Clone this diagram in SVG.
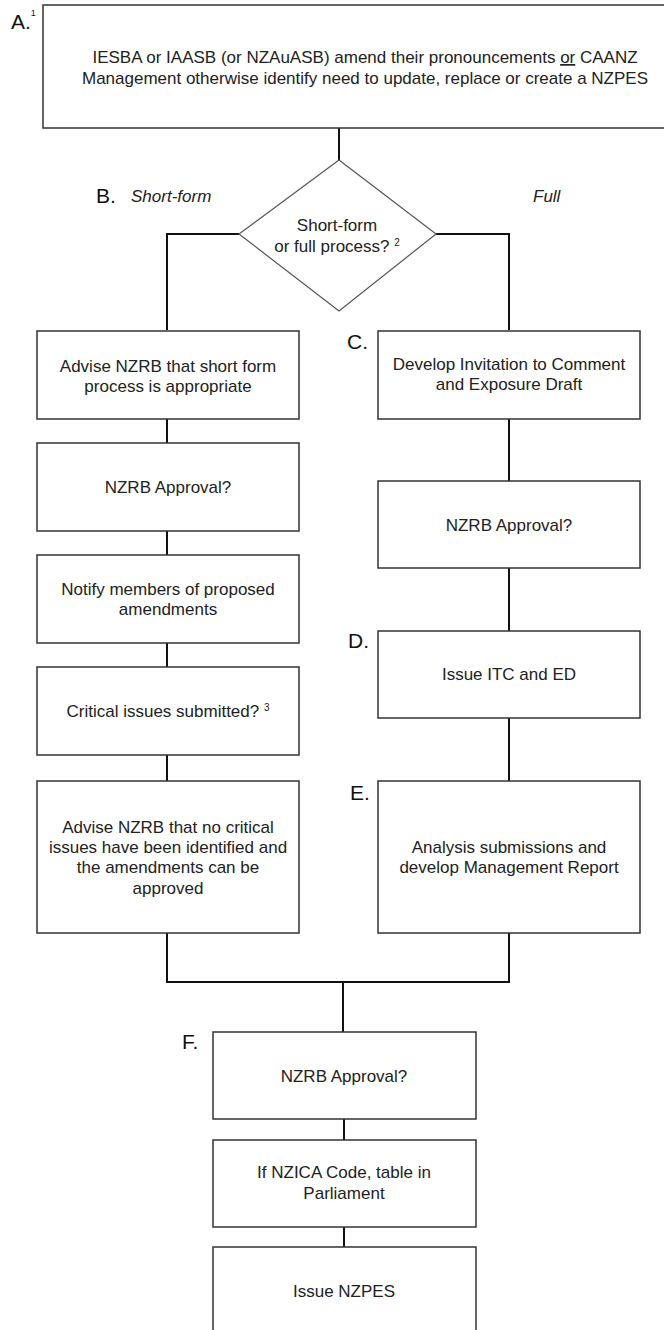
<svg xmlns="http://www.w3.org/2000/svg" width="664" height="1330" viewBox="0 0 664 1330">
<style>
.box{fill:#fff;stroke:#333;stroke-width:1.5}
.dia{fill:#fff;stroke:#555;stroke-width:1.2}
.t{font-family:"Liberation Sans",Arial,sans-serif;font-size:17px;fill:#222;text-anchor:middle}
.lbl{font-family:"Liberation Sans",Arial,sans-serif;font-size:21px;fill:#111}
.it{font-family:"Liberation Sans",Arial,sans-serif;font-size:17px;font-style:italic;fill:#222}
.sup{font-size:10px}
.con{fill:none;stroke:#111;stroke-width:2}
</style>
<rect width="664" height="1330" fill="#fff"/>
<g id="connectors">
<path class="con" d="M339,128 V160"/>
<path class="con" d="M239,234 H167 V330"/>
<path class="con" d="M436,234 H509 V330"/>
<path class="con" d="M167,418 V443"/>
<path class="con" d="M167,531 V555"/>
<path class="con" d="M167,643 V667"/>
<path class="con" d="M167,755 V781"/>
<path class="con" d="M509,418 V481"/>
<path class="con" d="M509,568 V631"/>
<path class="con" d="M509,718 V781"/>
<path class="con" d="M167,933 V982 H509 V933"/>
<path class="con" d="M343,982 V1032"/>
<path class="con" d="M344,1119 V1140"/>
<path class="con" d="M344,1227 V1247"/>
</g>
<g id="nodeA">
<rect class="box" x="43" y="5" width="630" height="123"/>
<text class="lbl" x="11" y="29">A.<tspan font-size="9" dy="-13">1</tspan></text>
<text class="t" x="365" y="63">IESBA or IAASB  (or NZAuASB)  amend their pronouncements <tspan text-decoration="underline">or</tspan> CAANZ</text>
<text class="t" x="365" y="84">Management otherwise identify need to update, replace or create a NZPES</text>
</g>
<g id="nodeB">
<polygon class="dia" points="339,160 436,234 339,311 239,234"/>
<text class="lbl" x="96" y="203">B.</text>
<text class="it" x="131" y="202">Short-form</text>
<text class="it" x="533" y="202">Full</text>
<text class="t" x="337" y="231">Short-form</text>
<text class="t" x="337" y="252">or full process? <tspan class="sup" dy="-6">2</tspan></text>
</g>
<g id="nodeS1">
<rect class="box" x="37" y="331" width="262" height="88"/>
<text class="t" x="168" y="372">Advise NZRB that short form</text>
<text class="t" x="168" y="392">process is appropriate</text>
</g>
<g id="nodeS2">
<rect class="box" x="37" y="443" width="262" height="88"/>
<text class="t" x="168" y="493">NZRB Approval?</text>
</g>
<g id="nodeS3">
<rect class="box" x="37" y="555" width="262" height="88"/>
<text class="t" x="168" y="595">Notify members of proposed</text>
<text class="t" x="168" y="615">amendments</text>
</g>
<g id="nodeS4">
<rect class="box" x="37" y="667" width="262" height="88"/>
<text class="t" x="168" y="717">Critical issues submitted? <tspan class="sup" dy="-6">3</tspan></text>
</g>
<g id="nodeS5">
<rect class="box" x="37" y="781" width="262" height="152"/>
<text class="t" x="168" y="833">Advise NZRB that no critical</text>
<text class="t" x="168" y="853">issues have been identified and</text>
<text class="t" x="168" y="873">the amendments can be</text>
<text class="t" x="168" y="894">approved</text>
</g>
<g id="nodeC">
<rect class="box" x="378" y="331" width="262" height="88"/>
<text class="lbl" x="347" y="349">C.</text>
<text class="t" x="509" y="370">Develop Invitation to Comment</text>
<text class="t" x="509" y="390">and Exposure Draft</text>
</g>
<g id="nodeF1">
<rect class="box" x="378" y="481" width="262" height="87"/>
<text class="t" x="509" y="531">NZRB Approval?</text>
</g>
<g id="nodeD">
<rect class="box" x="378" y="631" width="262" height="87"/>
<text class="lbl" x="348" y="648">D.</text>
<text class="t" x="509" y="680">Issue ITC and ED</text>
</g>
<g id="nodeE">
<rect class="box" x="378" y="781" width="262" height="152"/>
<text class="lbl" x="350" y="800">E.</text>
<text class="t" x="509" y="853">Analysis submissions and</text>
<text class="t" x="509" y="873">develop Management Report</text>
</g>
<g id="nodeF">
<rect class="box" x="213" y="1032" width="263" height="87"/>
<text class="lbl" x="182" y="1049">F.</text>
<text class="t" x="344" y="1082">NZRB Approval?</text>
</g>
<g id="nodeG">
<rect class="box" x="213" y="1140" width="263" height="87"/>
<text class="t" x="344" y="1178">If NZICA Code, table in</text>
<text class="t" x="344" y="1199">Parliament</text>
</g>
<g id="nodeH">
<rect class="box" x="213" y="1247" width="263" height="95"/>
<text class="t" x="344" y="1297">Issue NZPES</text>
</g>
</svg>
